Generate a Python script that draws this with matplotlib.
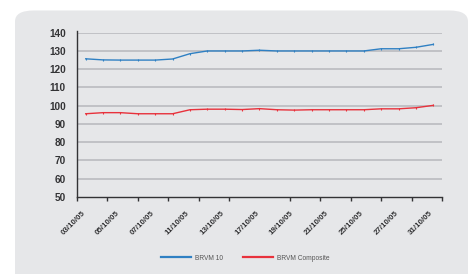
import numpy as np
import matplotlib
matplotlib.use('Agg')
import matplotlib.pyplot as plt
import matplotlib.transforms as mtransforms
from matplotlib.patches import FancyBboxPatch

days = ['03/10/05', '04/10/05', '05/10/05', '06/10/05', '07/10/05', '10/10/05', '11/10/05',
        '12/10/05', '13/10/05', '14/10/05', '17/10/05', '18/10/05', '19/10/05', '20/10/05',
        '21/10/05', '24/10/05', '25/10/05', '26/10/05', '27/10/05', '28/10/05', '31/10/05']
brvm10 = [125.7, 125.1, 125.0, 125.0, 125.0, 125.6, 128.5, 130.0, 130.0, 130.0, 130.4,
          130.0, 130.0, 130.0, 130.0, 130.0, 130.0, 131.2, 131.2, 132.0, 133.6]
brvm_comp = [95.6, 96.2, 96.2, 95.6, 95.6, 95.6, 97.8, 98.1, 98.1, 97.9, 98.4,
             97.8, 97.6, 97.8, 97.8, 97.8, 97.8, 98.3, 98.3, 98.9, 100.2]
yticks = [50, 60, 70, 80, 90, 100, 110, 120, 130, 140]

BG = '#E6E7E9'
GRID = '#BEBFC3'
BLUE = '#2F80C3'
RED = '#E8323C'
DARK = '#333335'

plt.rcParams['font.family'] = ['Liberation Sans', 'DejaVu Sans']

fig = plt.figure(figsize=(4.7, 2.74), dpi=100, facecolor='white')
box = FancyBboxPatch((15 / 470, -0.1), 453 / 470, 1.08 - 5 / 274,
                     boxstyle='round,pad=0,rounding_size=0.04', transform=fig.transFigure,
                     facecolor=BG, edgecolor='none', zorder=-5)
fig.patches.append(box)

ax = fig.add_axes([77 / 470, 1 - 197 / 274, 365 / 470, 164.3 / 274])
ax.set_facecolor('none')
x = np.arange(len(days))
ax.plot(x, brvm10, color=BLUE, lw=1.0, marker='|', ms=2, mew=0.8, label='BRVM 10', zorder=3)
ax.plot(x, brvm_comp, color=RED, lw=1.0, marker='|', ms=2, mew=0.8, label='BRVM Composite', zorder=3)

ax.set_xlim(-0.5, len(days) - 0.5)
ax.set_ylim(50, 140)
ax.set_yticks(yticks)
ax.set_yticklabels([str(v) for v in yticks], fontsize=7.2, fontweight='bold', color=DARK)
ax.tick_params(axis='y', length=0, pad=8)
for v in yticks[1:]:
    ax.axhline(v, color=GRID, lw=1.3, zorder=1)

ax.set_xticks(x[::2])
ax.set_xticklabels(days[::2], rotation=45, ha='right', rotation_mode='anchor',
                   fontsize=5.7, fontweight='bold', color=DARK)
ax.tick_params(axis='x', which='major', length=0, pad=9)
shift = mtransforms.ScaledTranslation(-4 / 100, 0, fig.dpi_scale_trans)
for lab in ax.get_xticklabels():
    lab.set_transform(lab.get_transform() + shift)
ax.set_xticks(np.linspace(-0.5, len(days) - 0.5, 13), minor=True)
ax.tick_params(axis='x', which='minor', length=3, width=1.0, color=DARK, direction='out')

for s in ['top', 'right']:
    ax.spines[s].set_visible(False)
ax.spines['left'].set_color(DARK)
ax.spines['bottom'].set_color(DARK)
ax.spines['left'].set_linewidth(1.0)
ax.spines['bottom'].set_linewidth(1.0)
ax.spines['left'].set_bounds(50, 141)

leg = fig.legend(loc='center', bbox_to_anchor=(245 / 470, 1 - 258 / 274), ncol=2, frameon=False,
                 fontsize=4.8, handlelength=4.6, columnspacing=3.0, handletextpad=0.5)
for line in leg.get_lines():
    line.set_marker('')
    line.set_linewidth(1.6)
for t in leg.get_texts():
    t.set_color('#555555')

fig.savefig('out.png', dpi=100, facecolor='white')
